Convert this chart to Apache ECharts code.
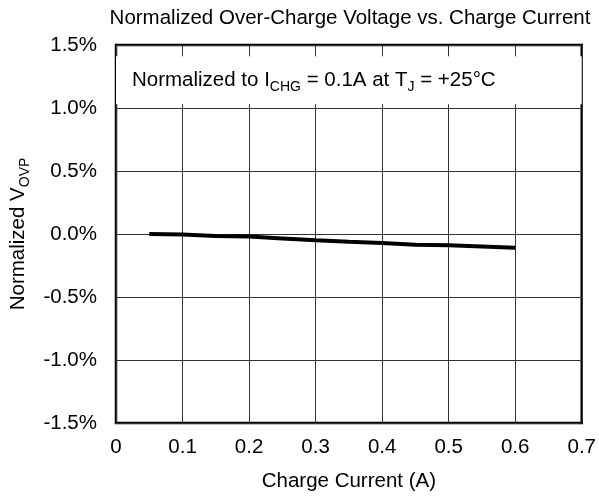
<!DOCTYPE html>
<html>
<head>
<meta charset="utf-8">
<script src="https://cdn.jsdelivr.net/npm/echarts@6/dist/echarts.min.js"></script>
<style>
html,body{margin:0;padding:0;background:#fff;}
#c{width:599px;height:498px;}
</style>
</head>
<body>
<div id="c"></div>
<script>
var chargeCurrent = [0.05, 0.1, 0.15, 0.2, 0.25, 0.3, 0.35, 0.4, 0.45, 0.5, 0.55, 0.6];
var normalizedVovp = [0.0, -0.003, -0.015, -0.02, -0.035, -0.05, -0.062, -0.072, -0.085, -0.09, -0.1, -0.11];
var xTicks = {min: 0, max: 0.7, interval: 0.1};
var yTicks = {min: -1.5, max: 1.5, interval: 0.5};

var FONT = 'Liberation Sans, Arial, sans-serif';
var FS = 20.5;
var chart = echarts.init(document.getElementById('c'), null, {renderer: 'canvas'});
var pts = chargeCurrent.map(function (x, i) { return [x, normalizedVovp[i]]; });

chart.setOption({
  animation: false,
  backgroundColor: '#fff',
  title: {
    text: 'Normalized Over-Charge Voltage vs. Charge Current',
    left: 345, top: 3, textAlign: 'center',
    textStyle: {fontFamily: FONT, fontSize: FS, fontWeight: 'normal', color: '#000'}
  },
  grid: {left: 109, right: 17, top: 45, bottom: 75, show: true, borderColor: '#000', borderWidth: 2.5, backgroundColor: 'transparent'},
  xAxis: {
    type: 'value', min: xTicks.min, max: xTicks.max, interval: xTicks.interval,
    name: 'Charge Current (A)', nameLocation: 'middle', nameGap: 48,
    nameTextStyle: {fontFamily: FONT, fontSize: FS, color: '#000'},
    axisLine: {show: false}, axisTick: {show: false},
    axisLabel: {fontFamily: FONT, fontSize: FS, color: '#000', margin: 14,
      formatter: function (v) { return v === 0 ? '0' : v.toFixed(1); }},
    splitLine: {show: true, lineStyle: {color: '#333', width: 1}}
  },
  yAxis: {
    type: 'value', min: yTicks.min, max: yTicks.max, interval: yTicks.interval,
    name: '{a|Normalized V}{s|OVP}', nameLocation: 'middle', nameGap: 84, nameRotate: 90,
    nameTextStyle: {fontFamily: FONT, fontSize: FS, color: '#000',
      rich: {a: {fontFamily: FONT, fontSize: FS, color: '#000'},
             s: {fontFamily: FONT, fontSize: 14, color: '#000', padding: [13, 0, 0, 0]}}},
    axisLine: {show: false}, axisTick: {show: false},
    axisLabel: {fontFamily: FONT, fontSize: FS, color: '#000', margin: 19,
      formatter: function (v) { return v.toFixed(1) + '%'; }},
    splitLine: {show: true, lineStyle: {color: '#333', width: 1}}
  },
  series: [{
    type: 'line', data: pts, showSymbol: false, smooth: false,
    lineStyle: {color: '#000', width: 4},
    markArea: {
      silent: true,
      itemStyle: {color: '#fff', opacity: 1},
      label: {
        show: true, position: 'insideLeft', distance: 16,
        formatter: '{a|Normalized to I}{s|CHG}{a| = 0.1A at T}{s|J}{a| = +25\u00B0C}',
        rich: {a: {fontFamily: FONT, fontSize: FS, color: '#000'},
               s: {fontFamily: FONT, fontSize: 14, color: '#000', padding: [13, 0, 0, 0]}}
      },
      data: [[{xAxis: 0, yAxis: 1.03}, {xAxis: 0.7, yAxis: 1.41}]]
    }
  }]
});
</script>
</body>
</html>
